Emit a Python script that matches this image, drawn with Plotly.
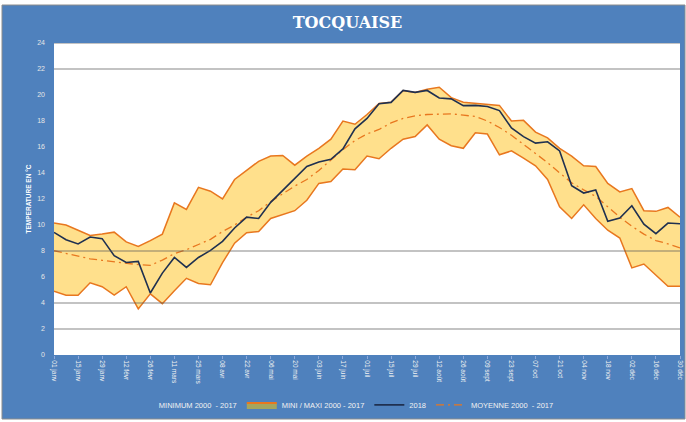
import plotly.graph_objects as go
import pandas as pd

# ---- data (weekly, 53 points) ----
weeks = pd.date_range("2016-01-01", periods=53, freq="7D")

maxi = [10.15, 10.0, 9.6, 9.2, 9.3, 9.45, 8.7, 8.35, 8.8, 9.3,
        11.7, 11.2, 12.9, 12.6, 12.0, 13.5, 14.2, 14.9, 15.3, 15.35,
        14.6, 15.3, 15.9, 16.6, 18.0, 17.75, 18.5, 19.35, 19.45, 20.35,
        20.2, 20.45, 20.6, 19.8, 19.45, 19.35, 19.25, 19.2, 18.0, 18.05,
        17.15, 16.7, 15.9, 15.3, 14.55, 14.5, 13.2, 12.55, 12.8, 11.1,
        11.05, 11.35, 10.6]

mini = [4.9, 4.6, 4.6, 5.55, 5.25, 4.6, 5.25, 3.55, 4.7, 3.95,
        4.95, 5.9, 5.5, 5.4, 7.1, 8.6, 9.4, 9.5, 10.5, 10.8,
        11.1, 11.9, 13.2, 13.35, 14.3, 14.25, 15.3, 15.1, 15.9, 16.6,
        16.8, 17.7, 16.6, 16.1, 15.9, 17.1, 17.0, 15.4, 15.7, 15.15,
        14.55, 13.5, 11.4, 10.5, 11.55, 10.5, 9.6, 9.0, 6.7, 7.0,
        6.1, 5.28, 5.28]

y2018 = [9.43, 8.87, 8.54, 9.08, 8.95, 7.64, 7.12, 7.2, 4.77, 6.3,
         7.5, 6.74, 7.5, 8.05, 8.74, 9.77, 10.6, 10.5, 11.74, 12.66,
         13.5, 14.5, 14.85, 15.05, 15.85, 17.4, 18.2, 19.33, 19.43, 20.35,
         20.2, 20.35, 19.77, 19.7, 19.18, 19.2, 19.12, 18.8, 17.46, 16.8,
         16.3, 16.4, 15.7, 13.02, 12.46, 12.7, 10.28, 10.54, 11.48, 10.07,
         9.33, 10.15, 10.1]

moyenne = [8.02, 7.8, 7.6, 7.4, 7.28, 7.17, 7.07, 6.95, 6.9, 7.3,
           7.8, 8.1, 8.5, 8.9, 9.5, 10.0, 10.6, 11.1, 11.8, 12.4,
           13.0, 13.5, 14.2, 15.0, 15.8, 16.5, 17.0, 17.35, 17.85, 18.2,
           18.4, 18.5, 18.55, 18.55, 18.45, 18.35, 18.0, 17.5, 16.9, 16.2,
           15.55, 14.8, 14.0, 13.25, 12.7, 12.2, 11.4, 10.6, 9.9, 9.3,
           8.8, 8.55, 8.23]

tick_labels = ["01 janv", "15 janv", "29 janv", "12 févr", "26 févr", "11 mars",
               "25 mars", "08 avr", "22 avr", "06 mai", "20 mai", "03 juin",
               "17 juin", "01 juil", "15 juil", "29 juil", "12 août", "26 août",
               "09 sept", "23 sept", "07 oct", "21 oct", "04 nov", "18 nov",
               "02 déc", "16 déc", "30 déc"]
tick_vals = list(weeks[::2])

grid_levels = [2, 4, 8, 22, 24]

BLUE = "#4F81BD"
ORANGE = "#E8771F"
BAND = "#FFE08C"
NAVY = "#1F3050"

fig = go.Figure()

# band: minimum edge then maximum filled to it
fig.add_trace(go.Scatter(x=weeks, y=mini, mode="lines",
                         line=dict(color=ORANGE, width=1.5),
                         showlegend=False, hoverinfo="skip"))
fig.add_trace(go.Scatter(x=weeks, y=maxi, mode="lines", fill="tonexty",
                         fillcolor=BAND, line=dict(color=ORANGE, width=1.5),
                         showlegend=False, hoverinfo="skip"))

# legend-only entries
fig.add_trace(go.Scatter(x=[None], y=[None], mode="lines",
                         line=dict(color="rgba(0,0,0,0)", width=0),
                         name="MINIMUM 2000  - 2017", legendrank=1))
fig.add_trace(go.Scatter(x=[None], y=[None], mode="lines", fill="toself",
                         fillcolor="#A5A55E", line=dict(color=ORANGE, width=2),
                         name="MINI / MAXI 2000 - 2017", legendrank=2))

fig.add_trace(go.Scatter(x=weeks, y=moyenne, mode="lines",
                         line=dict(color=ORANGE, width=1.3, dash="8px,4px,2px,4px"),
                         name="MOYENNE 2000  - 2017", legendrank=4))
fig.add_trace(go.Scatter(x=weeks, y=y2018, mode="lines",
                         line=dict(color=NAVY, width=1.6),
                         name="2018", legendrank=3))

shapes = []
for g in grid_levels:
    shapes.append(dict(type="line", xref="paper", x0=0, x1=1, yref="y", y0=g, y1=g,
                       line=dict(color="rgba(90,90,90,0.72)", width=1), layer="above"))

# outer white margin + thin grey frame (paper coordinates beyond plot domain)
L, R, T, B = 54, 6, 43, 67
W, H = 686, 422
pw, ph = W - L - R, H - T - B
def px2x(p):
    return (p - L) / pw
def py2y(p):
    return (H - B - p) / ph
white_boxes = [(-2, W + 2, -2, 5), (-2, W + 2, 419, H + 2),
               (-2, 2, -2, H + 2), (685, W + 2, -2, H + 2)]
for x0, x1, y0, y1 in white_boxes:
    shapes.append(dict(type="rect", xref="paper", yref="paper",
                       x0=px2x(x0), x1=px2x(x1), y0=py2y(y1), y1=py2y(y0),
                       fillcolor="white", line=dict(width=0), layer="below"))
shapes.append(dict(type="rect", xref="paper", yref="paper",
                   x0=px2x(2), x1=px2x(685), y0=py2y(419), y1=py2y(5),
                   fillcolor="rgba(0,0,0,0)", line=dict(color="#8C8C8C", width=1),
                   layer="below"))

fig.update_layout(
    width=W, height=H,
    margin=dict(l=L, r=R, t=T, b=B, pad=0, autoexpand=False),
    paper_bgcolor=BLUE,
    plot_bgcolor="white",
    title=dict(text="<b>TOCQUAISE</b>", x=347.5 / W, xanchor="center",
               y=1 - 22 / H, yanchor="middle",
               font=dict(family="DejaVu Serif", size=16, color="white")),
    xaxis=dict(range=[weeks[0], weeks[-1]], tickvals=tick_vals, ticktext=tick_labels,
               tickangle=90, showgrid=False, zeroline=False, showline=False,
               ticks="outside", ticklen=3, tickcolor="#8EA9DB", automargin=False,
               tickfont=dict(family="Liberation Sans", size=6.5, color="#F2F2F2")),
    yaxis=dict(range=[0, 24], dtick=2, showgrid=False, zeroline=False, showline=False,
               ticks="", ticklabelstandoff=8, automargin=False,
               tickfont=dict(family="Liberation Sans", size=7, color="#E6E6E6"),
               title=dict(text="<b>TEMPERATURE EN °C</b>", standoff=4,
                          font=dict(family="Liberation Sans", size=6.5, color="white"))),
    legend=dict(orientation="h", x=0.455, xanchor="center", y=-0.16, yanchor="middle",
                font=dict(family="Liberation Sans", size=7.5, color="#F2F2F2"),
                bgcolor="rgba(0,0,0,0)", itemwidth=30, traceorder="normal"),
    shapes=shapes,
    showlegend=True,
)

fig.write_html("out.html", config={"displayModeBar": False},
               post_script="document.body.style.margin='0';document.body.style.padding='0';")
